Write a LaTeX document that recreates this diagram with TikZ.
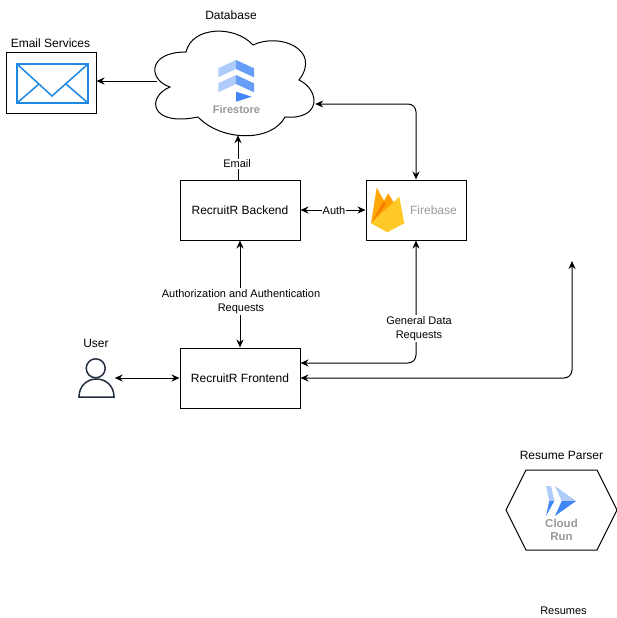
\documentclass[tikz,border=0pt]{standalone}
\usepackage{fontspec}
\setmainfont{Liberation Sans}
\usetikzlibrary{arrows.meta}
\definecolor{mailblue}{HTML}{1E88E5}
\definecolor{mailedge}{HTML}{90CAF9}
\definecolor{gcplight}{HTML}{AECBFA}
\definecolor{gcpmid}{HTML}{669DF6}
\definecolor{gcpdark}{HTML}{4285F4}
\definecolor{fireyellow}{HTML}{FFCA28}
\definecolor{fireamber}{HTML}{FFA000}
\definecolor{fireorange}{HTML}{F57C00}
\definecolor{usernavy}{HTML}{232F3E}
\definecolor{icontext}{HTML}{999999}

\begin{document}
\begin{tikzpicture}[x=1pt,y=-1pt,font=\fontsize{12}{14}\selectfont]
        % Setup the styles
        \tikzset{box style/.style={draw, line width=1pt, minimum width=120pt, minimum height=60pt, inner sep=0pt},
                 hidden style/.style={inner sep=0pt},
                 link style/.style={line width=1pt, {Stealth[length=8pt,width=7pt]}-{Stealth[length=8pt,width=7pt]}, rounded corners=8pt},
                 oneway style/.style={line width=1pt, -{Stealth[length=8pt,width=7pt]}},
                 edge label/.style={fill=white, inner sep=1pt, align=center, font=\fontsize{11}{14}\selectfont},
                 icon text/.style={text=icontext, align=center, inner sep=0pt}}
        \useasboundingbox (0,0) rectangle (617,618);

        % Draw the boxes
        \node[box style, minimum width=90pt] at (51,83) (mailbox) {};
        \node[box style] at (240,210) (backend) {RecruitR Backend};
        \node[box style, minimum width=100pt] at (416,210) (firebase) {};
        \node[box style] at (240,378) (frontend) {RecruitR Frontend};
        \node[hidden style, minimum width=162pt, minimum height=103pt] at (234,83.5) (database) {};
        \node[hidden style, minimum width=36pt, minimum height=38pt] at (96.5,378) (user) {};
        \coordinate (parserend) at (572,261);

        % Draw the cloud
        \draw[line width=1pt, fill=white] (170,87)
            .. controls (148,80) and (147,52) .. (186,52)
            .. controls (192,26) and (235,25) .. (253,45)
            .. controls (280,32) and (322,50) .. (299,80)
            .. controls (320,90) and (322,120) .. (285,117)
            .. controls (272,142) and (222,142) .. (198,117)
            .. controls (150,127) and (146,97) .. (170,87) -- cycle;

        % Draw the hexagon
        \draw[line width=1pt] (506,510) -- (526,470) -- (597,470) -- (617,510) -- (597,550) -- (526,550) -- cycle;

        % Draw the envelope
        \draw[mailedge, line width=2.5pt] (17,64) rectangle (88,103);
        \draw[mailblue, line width=1.5pt] (17,64) rectangle (88,103);
        \draw[mailblue, line width=1.5pt] (17,64) -- (52,96) -- (88,64);
        \draw[mailblue, line width=1.5pt] (17,103) -- (39,84);
        \draw[mailblue, line width=1.5pt] (88,103) -- (66,84);

        % Draw the firestore icon
        \foreach \dy in {0,15} {
            \fill[gcplight] (218.3,68.3+\dy) -- (236,60+\dy) -- (236,69+\dy) -- (218.3,77.3+\dy) -- cycle;
            \fill[gcpmid] (236,60+\dy) -- (254,68.3+\dy) -- (254,77.3+\dy) -- (236,69+\dy) -- cycle;
        }
        \fill[gcpdark] (236,91.7) -- (251.7,96.7) -- (236,101.7) -- cycle;

        % Draw the firebase icon
        \fill[fireamber] (371,223.3) -- (388.3,193.3) -- (399.3,212) -- cycle;
        \fill[fireamber!80!fireyellow] (371,223.3) -- (376.7,187.7) -- (386,204) -- cycle;
        \fill[fireorange] (371,223.3) -- (383.5,201.5) -- (386,204) -- cycle;
        \fill[fireyellow] (371,223.3) -- (399.3,196.7) -- (404.3,223.3) -- (387.3,232.3) -- cycle;

        % Draw the cloud run icon
        \fill[gcplight] (546,486) -- (551,486) -- (554.3,501) -- (549.3,501) -- cycle;
        \fill[gcpdark] (549.3,501) -- (554.3,501) -- (546,516) -- cycle;
        \fill[gcplight] (555,486) -- (576,501) -- (561.7,501) -- cycle;
        \fill[gcpdark] (561.7,501) -- (576,501) -- (555,516) -- cycle;

        % Draw the user
        \draw[usernavy, line width=1.5pt] (95.7,368.3) circle (9.5);
        \draw[usernavy, line width=1.5pt] (79,397) .. controls (79,386) and (87,379) .. (96.5,379)
            .. controls (106,379) and (114,386) .. (114,397) -- cycle;

        % Connect the boxes with arrows
        \draw[oneway style] ([xshift=4pt,yshift=2.5pt]database.west) -- ([yshift=2pt]mailbox.east);
        \draw[oneway style] ([xshift=-2pt]backend.north) -- ([xshift=4pt]database.south);
        \draw[link style] (firebase.north) |- ([yshift=-20.5pt]database.east);
        \draw[link style] (backend.east) -- (firebase.west);
        \draw[link style] (backend.south) -- (frontend.north);
        \draw[link style] (firebase.south) |- ([yshift=15pt]frontend.east);
        \draw[link style] (frontend.east) -| (parserend);
        \draw[link style] (user.east) -- (frontend.west);

        % Labels
        \node[edge label] at (237,163.7) (emaillabel) {Email};
        \node[edge label] at (334,210.7) (authlabel) {Auth};
        \node[edge label] at (241,301.5) (requestlabel) {Authorization and Authentication\\Requests};
        \node[edge label] at (419,328.5) (datalabel) {General Data\\Requests};
        \node at (231,15) (databasetitle) {Database};
        \node at (50.5,43) (mailtitle) {Email Services};
        \node at (96,343) (usertitle) {User};
        \node at (561.5,455) (parsertitle) {Resume Parser};
        \node[font=\fontsize{11}{13}\selectfont] at (563.5,611) (resumestitle) {Resumes};
        \node[icon text, font=\bfseries\fontsize{11}{13.5}\selectfont] at (236.5,109.5) (firestorelabel) {Firestore};
        \node[icon text] at (433.5,210.5) (firebaselabel) {Firebase};
        \node[icon text, font=\bfseries\fontsize{11.5}{13}\selectfont] at (561.5,530) (cloudrunlabel) {Cloud\\Run};
\end{tikzpicture}
\end{document}
